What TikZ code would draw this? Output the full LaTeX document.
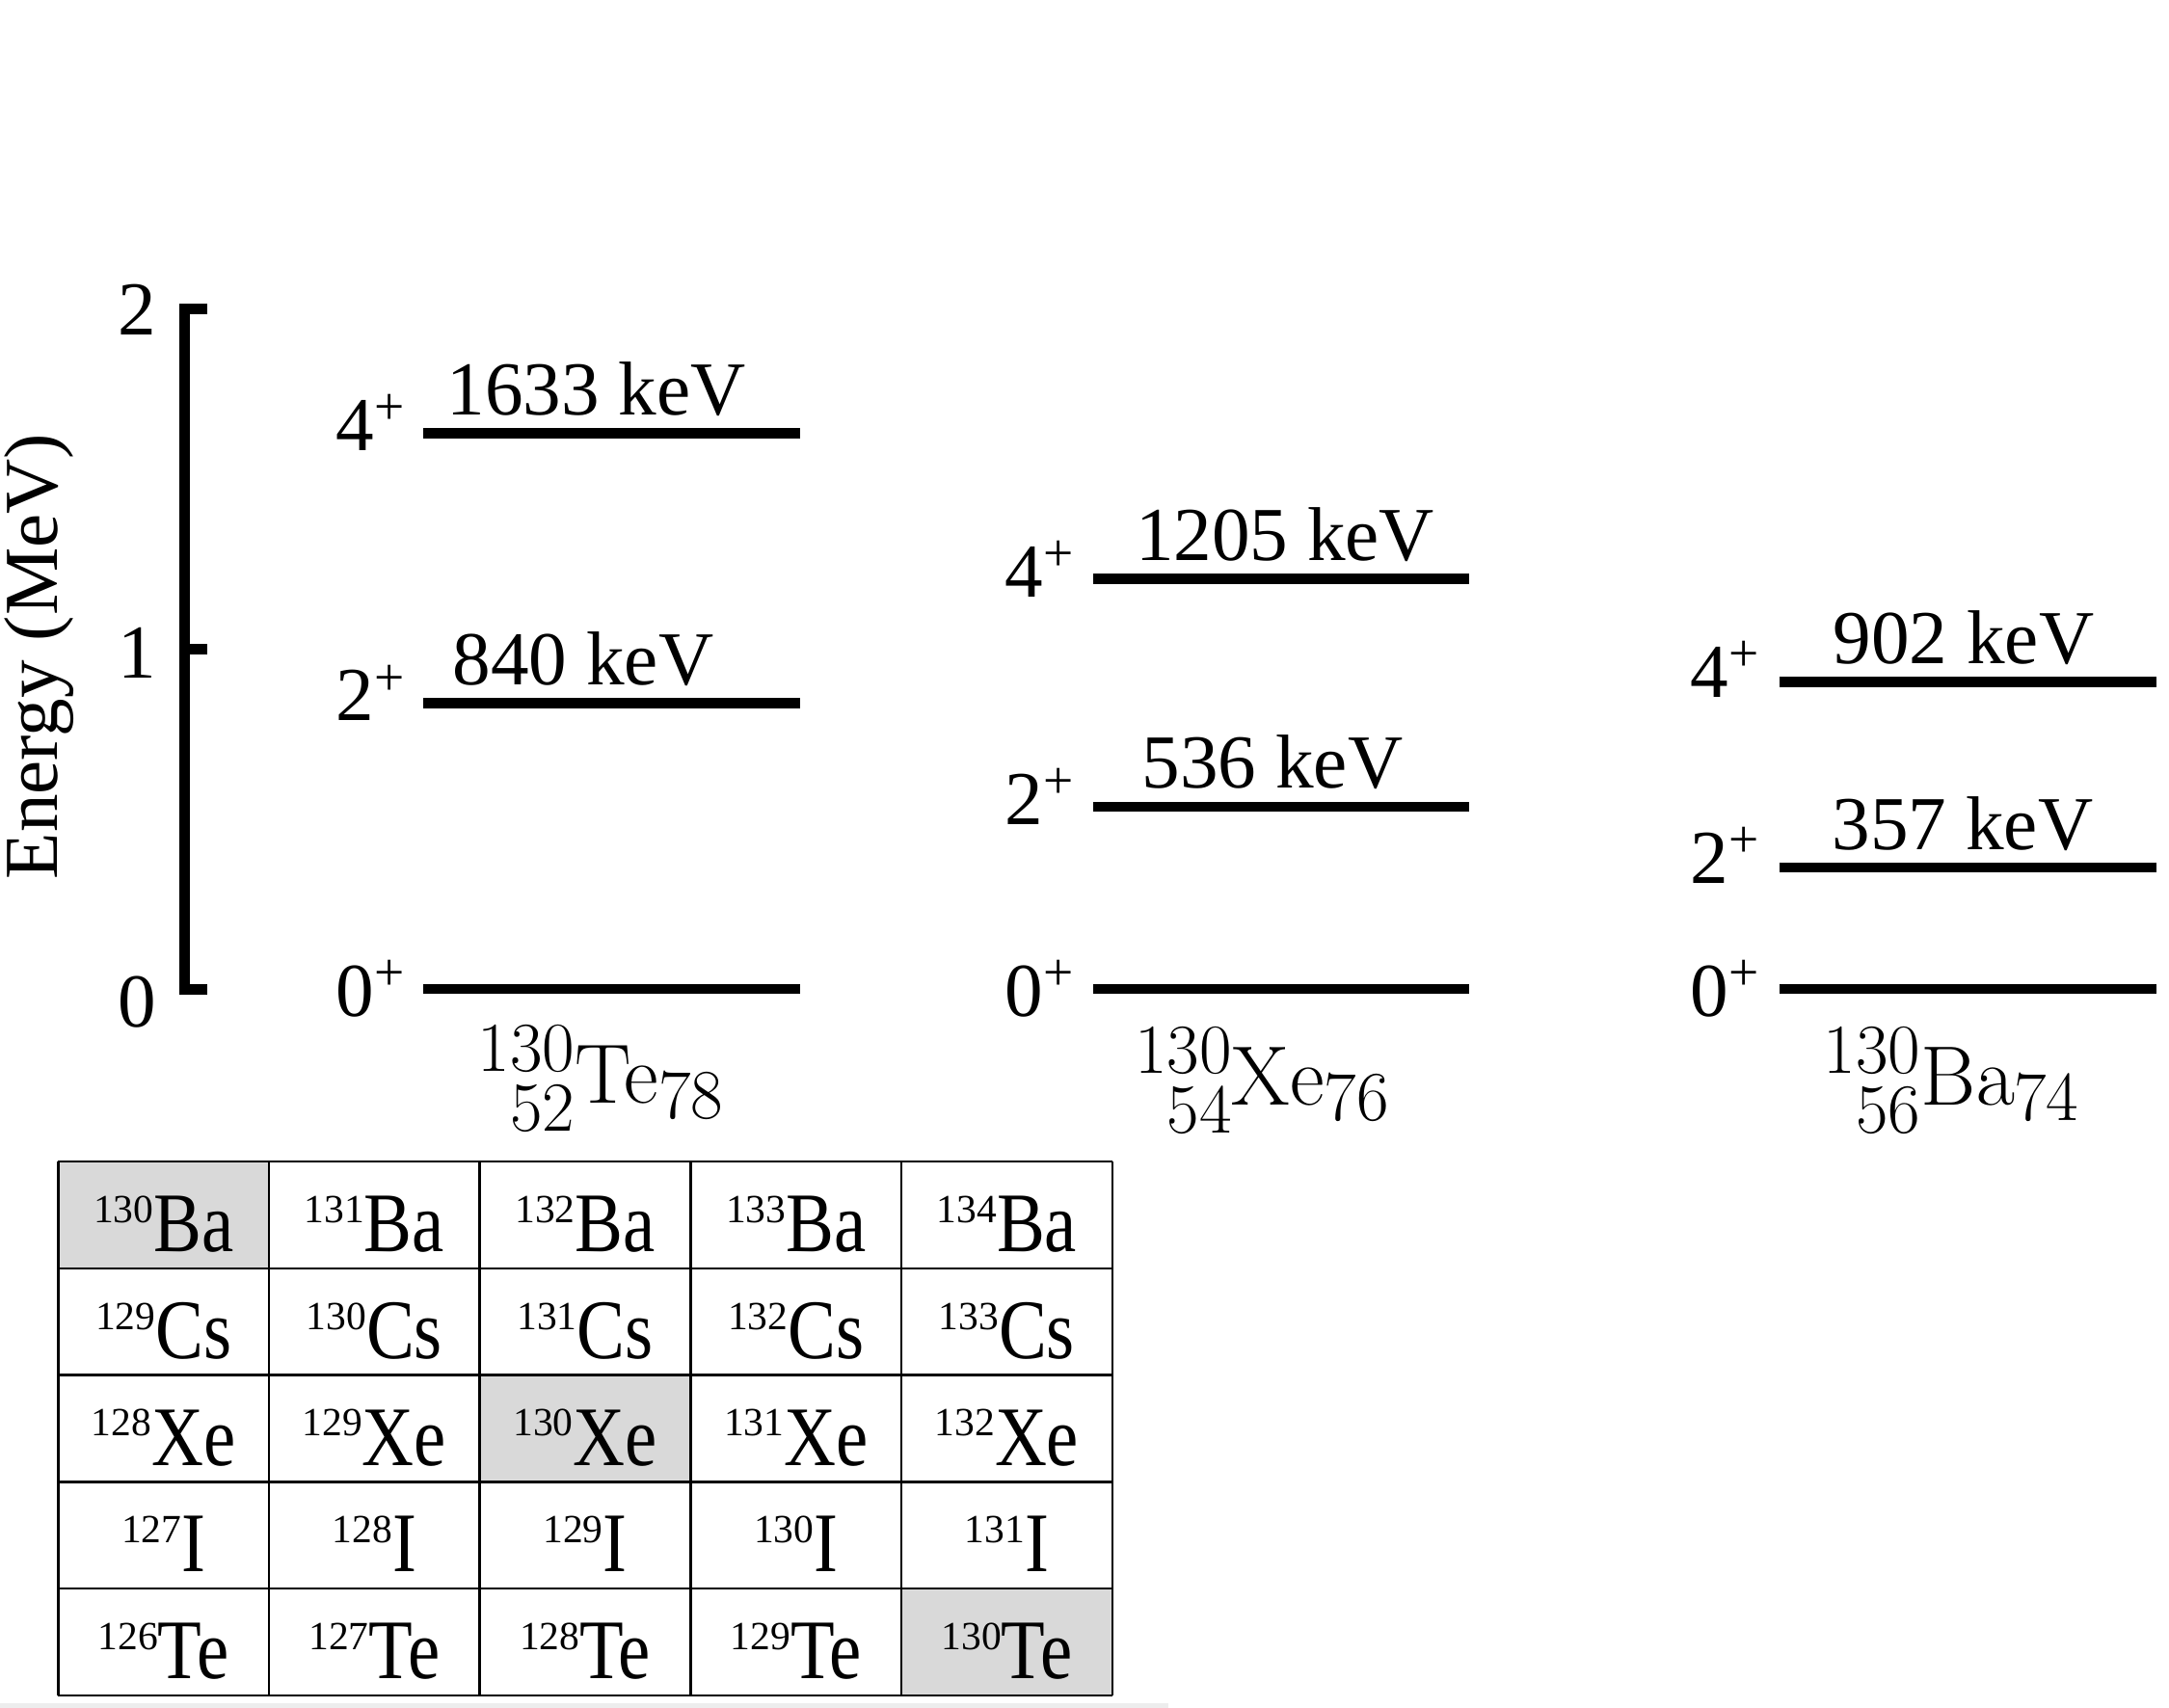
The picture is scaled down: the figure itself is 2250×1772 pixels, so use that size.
\documentclass[tikz,border=0pt]{standalone}
\usepackage[no-math]{fontspec}
\setmainfont{Liberation Serif}
\newfontfamily\tabfont[FakeStretch=0.85]{Liberation Serif}
\definecolor{cellgray}{HTML}{D9D9D9}
\newcommand\iso[2]{\raisebox{0.30cm}{\fontsize{11.8}{12}\selectfont #1}{\tabfont\fontsize{25}{30}\selectfont #2}}
\newlength\nucw
\newcommand\nucscript[1]{{\fontsize{20.74}{24}\selectfont$\mathrm{#1}$}}
\newcommand\nucl[4]{%
  \settowidth\nucw{\nucscript{#1}}%
  \makebox[\nucw][r]{\raisebox{0.366em}{\nucscript{#1}}}%
  \llap{\raisebox{-0.34em}{\nucscript{#2}}}%
  $\mathrm{#3}_{#4}$}
\begin{document}
\begin{tikzpicture}[x=0.01cm,y=-0.01cm,
  levelline/.style={line width=0.105cm},
  axisline/.style={line width=0.11cm, line join=miter},
  lbl/.style={inner sep=0pt, font=\fontsize{22.5}{27}\selectfont},
  nuc/.style={inner sep=0pt, anchor=base, font=\fontsize{24.88}{30}\selectfont},
  tabline/.style={line width=0.7pt},
  celltext/.style={inner sep=0pt, anchor=base}]
\useasboundingbox (0,0) rectangle (2250,1772);

% faint band at the bottom
\fill[black!7] (0,1767) rectangle (1212,1772);

% energy axis
\coordinate (ax2) at (215,320);
\coordinate (ax2i) at (191.5,320);
\coordinate (ax1) at (215,673);
\coordinate (ax1i) at (191.5,673);
\coordinate (ax0) at (215,1026);
\coordinate (ax0i) at (191.5,1026);
\draw[axisline] (ax2) -- (ax2i) -- (ax0i) -- (ax0);
\draw[axisline] (ax1i) -- (ax1);
\node[lbl] (t2) at (142.5,321) {2};
\node[lbl] (t1) at (142.5,677) {1};
\node[lbl] (t0) at (142.5,1040) {0};
\node[lbl, rotate=90] (elabel) at (40.5,681) {Energy (MeV)};

% Te levels
\coordinate (te0a) at (439,1026);   \coordinate (te0b) at (830,1026);
\coordinate (te2a) at (439,729.5);  \coordinate (te2b) at (830,729.5);
\coordinate (te4a) at (439,449.6);  \coordinate (te4b) at (830,449.6);
\draw[levelline] (te0a) -- (te0b);
\draw[levelline] (te2a) -- (te2b);
\draw[levelline] (te4a) -- (te4b);
\node[lbl, anchor=base east] (te0l) at (422,1054) {0\textsuperscript{+}};
\node[lbl, anchor=base east] (te2l) at (422,747.5) {2\textsuperscript{+}};
\node[lbl, anchor=base east] (te4l) at (422,467) {4\textsuperscript{+}};
\node[lbl, anchor=base] (te2e) at (605,710.5) {840 keV};
\node[lbl, anchor=base] (te4e) at (618.5,430.6) {1633 keV};
\node[nuc] (te) at (624,1144) {\nucl{130}{52}{Te}{78}};

% Xe levels
\coordinate (xe0a) at (1134,1026);   \coordinate (xe0b) at (1524,1026);
\coordinate (xe2a) at (1134,836.8);  \coordinate (xe2b) at (1524,836.8);
\coordinate (xe4a) at (1134,600.6);  \coordinate (xe4b) at (1524,600.6);
\draw[levelline] (xe0a) -- (xe0b);
\draw[levelline] (xe2a) -- (xe2b);
\draw[levelline] (xe4a) -- (xe4b);
\node[lbl, anchor=base east] (xe0l) at (1116,1054) {0\textsuperscript{+}};
\node[lbl, anchor=base east] (xe2l) at (1116,855) {2\textsuperscript{+}};
\node[lbl, anchor=base east] (xe4l) at (1116,619) {4\textsuperscript{+}};
\node[lbl, anchor=base] (xe2e) at (1320,817.8) {536 keV};
\node[lbl, anchor=base] (xe4e) at (1333,581.6) {1205 keV};
\node[nuc] (xe) at (1310,1146) {\nucl{130}{54}{Xe}{76}};

% Ba levels
\coordinate (ba0a) at (1845.6,1026);   \coordinate (ba0b) at (2236.5,1026);
\coordinate (ba2a) at (1845.6,900);    \coordinate (ba2b) at (2236.5,900);
\coordinate (ba4a) at (1845.6,707.6);  \coordinate (ba4b) at (2236.5,707.6);
\draw[levelline] (ba0a) -- (ba0b);
\draw[levelline] (ba2a) -- (ba2b);
\draw[levelline] (ba4a) -- (ba4b);
\node[lbl, anchor=base east] (ba0l) at (1827,1054) {0\textsuperscript{+}};
\node[lbl, anchor=base east] (ba2l) at (1827,916) {2\textsuperscript{+}};
\node[lbl, anchor=base east] (ba4l) at (1827,723) {4\textsuperscript{+}};
\node[lbl, anchor=base] (ba2e) at (2036,881) {357 keV};
\node[lbl, anchor=base] (ba4e) at (2037,688.6) {902 keV};
\node[nuc] (ba) at (2025,1146) {\nucl{130}{56}{Ba}{74}};

% chart of nuclides
\fill[cellgray] (60.3,1205) rectangle (279,1315.8);
\fill[cellgray] (497.7,1426.6) rectangle (716.4,1537.4);
\fill[cellgray] (935.1,1648.2) rectangle (1153.8,1759);
\foreach \i in {0,...,5} {
  \draw[tabline] ({60.3+218.7*\i},1205) -- ({60.3+218.7*\i},1759);
  \draw[tabline] (60.3,{1205+110.8*\i}) -- (1153.8,{1205+110.8*\i});
}
\foreach \el/\a [count=\r from 0] in {Ba/130,Cs/129,Xe/128,I/127,Te/126} {
  \foreach \c in {0,...,4} {
    \pgfmathtruncatemacro\m{\a+\c}
    \node[celltext] (c\r\c) at ({60.3+218.7*(\c+0.5)},{1205+110.8*(\r+0.5)+38}) {\iso{\m}{\el}};
  }
}
\end{tikzpicture}
\end{document}
